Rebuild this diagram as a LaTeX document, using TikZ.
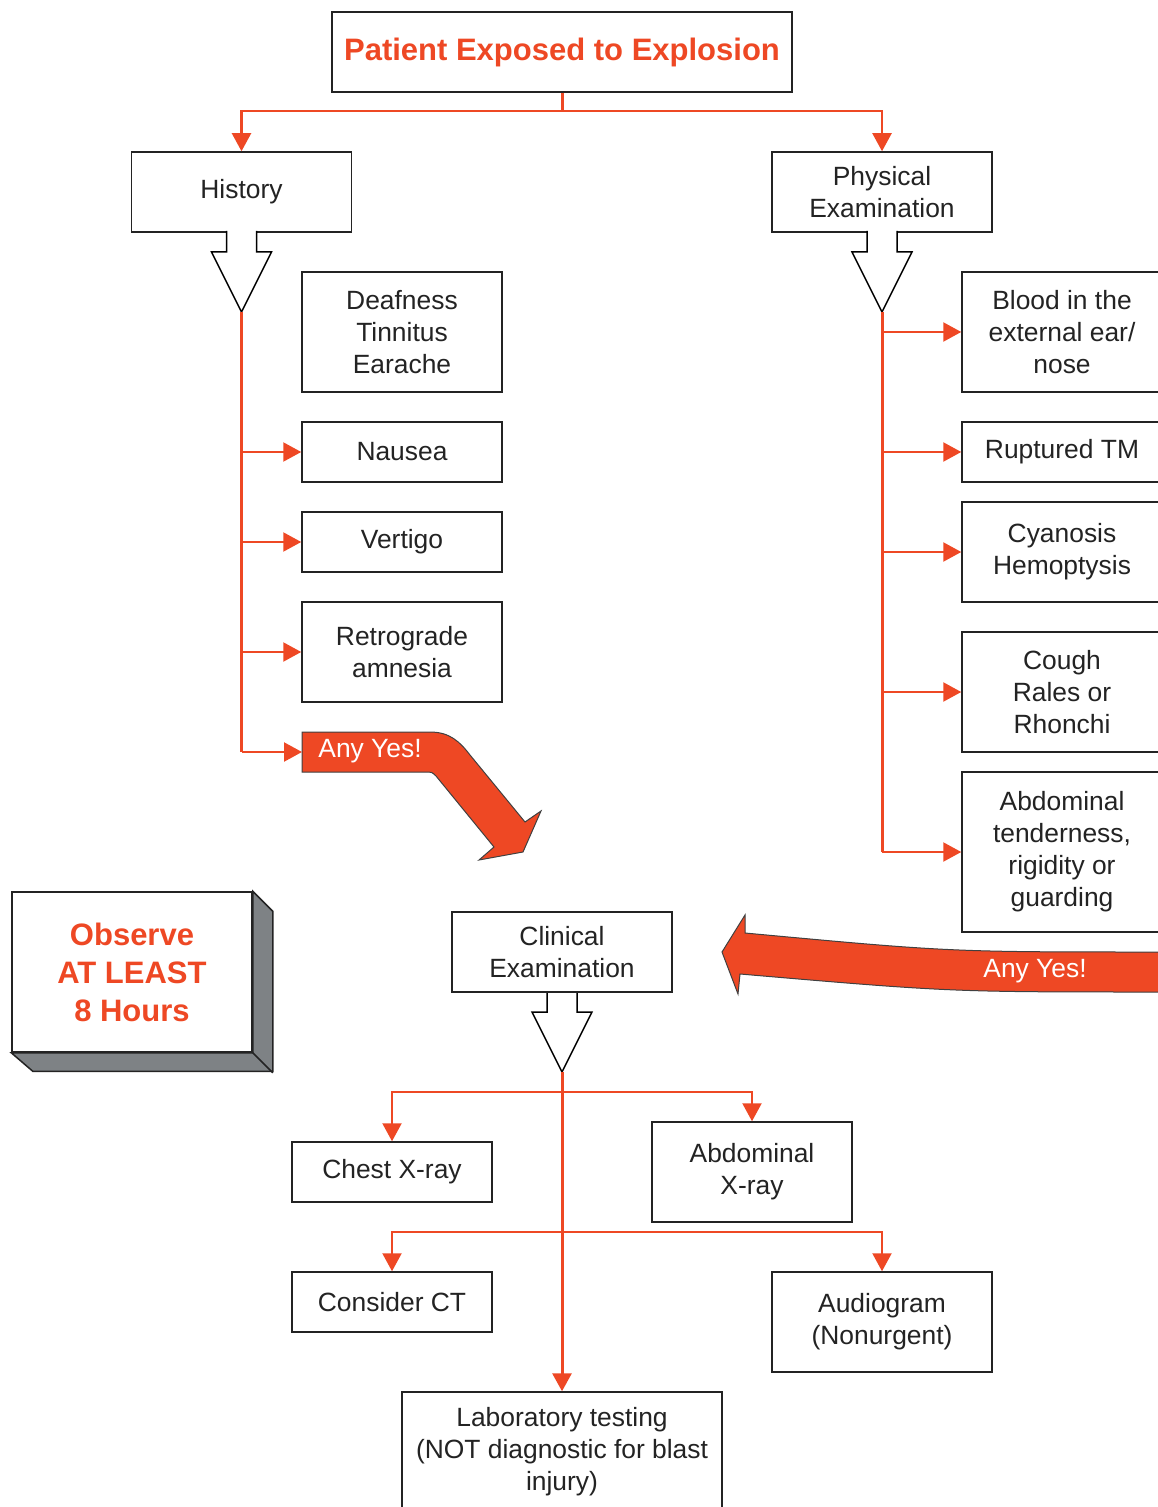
\documentclass[tikz,border=0pt]{standalone}
\usepackage{fontspec}
\setmainfont{Liberation Sans}
\usetikzlibrary{arrows.meta}
\definecolor{blastred}{RGB}{238,72,36}
\definecolor{boxgray}{RGB}{126,130,133}
\definecolor{ink}{RGB}{35,35,35}
\tikzset{every picture/.style={line width=0.75pt}}

\begin{document}
\begin{tikzpicture}[x=0.5pt,y=-0.5pt,
    box/.style={draw=ink,fill=white,text=ink,align=center,inner sep=0pt,font=\fontsize{13.2}{16}\selectfont},
    link/.style={draw=blastred,line width=1.1pt,-{Triangle[width=9.5pt,length=9pt]}},
    trunk/.style={draw=blastred,line width=1.5pt},
    yes/.style={fill=blastred,draw=black!75,line width=0.5pt},
    yestext/.style={text=white,font=\fontsize{13.2}{16}\selectfont}]
    \useasboundingbox (0,0) rectangle (1157,1507);

    \node[box,minimum width=230pt,minimum height=40pt,text=blastred,font=\fontsize{15.5}{19}\selectfont\bfseries] (title) at (562,52) {Patient Exposed to Explosion};
    \node[box,minimum width=110pt,minimum height=40pt] (hist) at (241.5,192) {History};
    \node[box,minimum width=110pt,minimum height=40pt] (phys) at (882,192) {Physical\\Examination};
    \coordinate (split) at (562,111);
    \draw[trunk] (title) -- (split);
    \draw[link] (split) -| (hist);
    \draw[link] (split) -| (phys);

    \foreach \n/\x/\y in {hist/241.5/232,phys/882/232,clin/562/992}{
        \draw[fill=white] (\x-15,\y-1) -- (\x-15,\y+20) -- (\x-30,\y+20) -- (\x,\y+80) -- (\x+30,\y+20) -- (\x+15,\y+20) -- (\x+15,\y-1);
        \coordinate (\n tip) at (\x,\y+80);
    }

    \node[box,minimum width=100pt,minimum height=60pt] (deaf) at (402,332) {Deafness\\Tinnitus\\Earache};
    \node[box,minimum width=100pt,minimum height=30pt] (nausea) at (402,452) {Nausea};
    \node[box,minimum width=100pt,minimum height=30pt] (vertigo) at (402,542) {Vertigo};
    \node[box,minimum width=100pt,minimum height=50pt] (amnesia) at (402,652) {Retrograde\\amnesia};

    \draw[yes] (302,732) -- (430,732) .. controls (450,732) and (460,742) .. (470,755) -- (525,822) -- (541,811) -- (523,852) -- (479,860) -- (494,847) -- (436,776) .. controls (432,772) .. (424,772) -- (302,772) -- cycle;
    \node[yestext] (yesleft) at (370,751) {Any Yes!};
    \coordinate (yesstart) at (302,752);

    \draw[trunk] (histtip) -- (histtip |- yesstart);
    \foreach \b in {nausea,vertigo,amnesia}
        \draw[link] (histtip |- \b) -- (\b);
    \draw[link] (histtip |- yesstart) -- (yesstart);

    \node[box,minimum width=100pt,minimum height=60pt] (blood) at (1062,332) {Blood in the\\external ear/\\nose};
    \node[box,minimum width=100pt,minimum height=30pt] (tm) at (1062,452) {Ruptured TM};
    \node[box,minimum width=100pt,minimum height=50pt] (cyan) at (1062,552) {Cyanosis\\Hemoptysis};
    \node[box,minimum width=100pt,minimum height=60pt] (cough) at (1062,692) {Cough\\Rales or\\Rhonchi};
    \node[box,minimum width=100pt,minimum height=80pt] (abdo) at (1062,852) {Abdominal\\tenderness,\\rigidity or\\guarding};

    \draw[trunk] (phystip) -- (phystip |- abdo);
    \foreach \b in {blood,tm,cyan,cough,abdo}
        \draw[link] (phystip |- \b) -- (\b);

    \draw[yes] (1160,952) .. controls (950,952) .. (745,933) -- (745,915) -- (722,952) -- (738,994) -- (740,974) .. controls (950,992) .. (1160,992) -- cycle;
    \node[yestext] (yesright) at (1035,971) {Any Yes!};

    \node[box,minimum width=120pt,minimum height=80pt,text=blastred,font=\fontsize{15.5}{19}\selectfont\bfseries] (observe) at (132,972) {Observe\\AT LEAST\\8 Hours};
    \draw[fill=boxgray,draw=ink] (observe.north east) -- ++(20,20) -- ++(0,160) -- ++(-240,0) -- (observe.south west) -- (observe.south east) -- cycle;
    \draw[draw=ink] (observe.south east) -- ++(20,20);

    \node[box,minimum width=110pt,minimum height=40pt] (clin) at (562,952) {Clinical\\Examination};
    \node[box,minimum width=100pt,minimum height=30pt] (chest) at (392,1172) {Chest X-ray};
    \node[box,minimum width=100pt,minimum height=50pt] (abdxray) at (752,1172) {Abdominal\\X-ray};
    \node[box,minimum width=100pt,minimum height=30pt] (ct) at (392,1302) {Consider CT};
    \node[box,minimum width=110pt,minimum height=50pt] (audio) at (882,1322) {Audiogram\\(Nonurgent)};
    \node[box,minimum width=160pt,minimum height=60pt] (lab) at (562,1452) {Laboratory testing\\(NOT diagnostic for blast\\injury)};

    \coordinate (fork1) at (562,1092);
    \coordinate (fork2) at (562,1232);
    \draw[trunk,-{Triangle[width=9.5pt,length=9pt]}] (clintip) -- (lab);
    \draw[link] (fork1) -| (chest);
    \draw[link] (fork1) -| (abdxray);
    \draw[link] (fork2) -| (ct);
    \draw[link] (fork2) -| (audio);
\end{tikzpicture}
\end{document}
